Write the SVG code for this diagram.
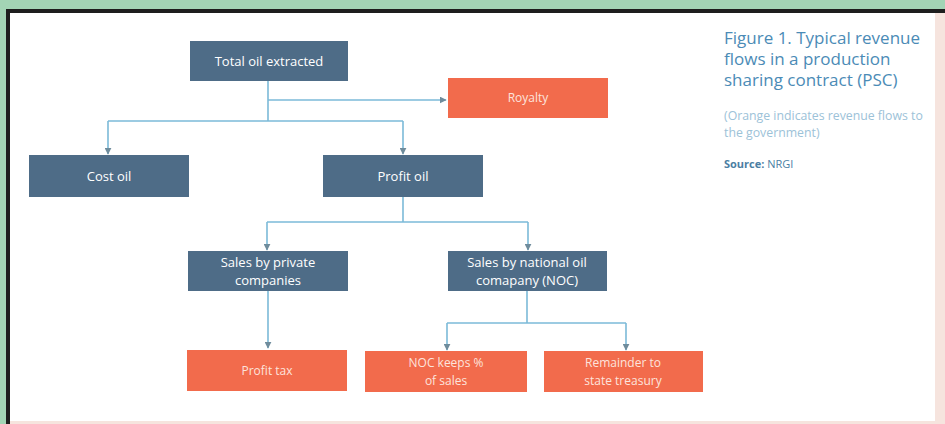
<svg xmlns="http://www.w3.org/2000/svg" width="945" height="424" viewBox="0 0 945 424">
<defs>
<style>
.dark{fill:#4e6c87}
.org{fill:#f26b4c}
.lbl{font-family:"Open Sans","Liberation Sans",sans-serif;font-size:13px;fill:#ffffff;text-anchor:middle}
.olbl{font-family:"Open Sans","Liberation Sans",sans-serif;font-size:12px;fill:#fde3dc;text-anchor:middle}
.conn{fill:none;stroke:#7bbad8;stroke-width:1.6}
.title{font-family:"Open Sans","Liberation Sans",sans-serif;font-size:17px;fill:#4b8bb6}
.sub{font-family:"Open Sans","Liberation Sans",sans-serif;font-size:12.3px;fill:#9cc2d8}
.src{font-family:"Open Sans","Liberation Sans",sans-serif;font-size:11px;fill:#4b7ea3}
</style>
<marker id="ah" viewBox="0 0 10 10" refX="9" refY="5" markerWidth="7" markerHeight="7" orient="auto" markerUnits="userSpaceOnUse">
<path d="M0,0 L10,5 L0,10 z" fill="#6f8c9c"/>
</marker>
</defs>
<rect x="0" y="0" width="945" height="424" fill="#a3d4b5"/>
<rect x="6" y="9" width="945" height="420" fill="#1e1e1e"/>
<rect x="10" y="13" width="935" height="411" fill="#f6e4de"/>
<rect x="10" y="13" width="925" height="408" fill="#ffffff"/>

<g id="connectors">
<path class="conn" d="M268,81 V121"/>
<path class="conn" d="M268,100 H446" marker-end="url(#ah)"/>
<path class="conn" d="M108,121 H403"/>
<path class="conn" d="M108,121 V154" marker-end="url(#ah)"/>
<path class="conn" d="M403,121 V154" marker-end="url(#ah)"/>
<path class="conn" d="M403,197 V222"/>
<path class="conn" d="M267,222 H528"/>
<path class="conn" d="M267,222 V250" marker-end="url(#ah)"/>
<path class="conn" d="M528,222 V250" marker-end="url(#ah)"/>
<path class="conn" d="M268,291 V348" marker-end="url(#ah)"/>
<path class="conn" d="M527,291 V323"/>
<path class="conn" d="M447,323 H626"/>
<path class="conn" d="M447,323 V350" marker-end="url(#ah)"/>
<path class="conn" d="M626,323 V350" marker-end="url(#ah)"/>
</g>

<g id="total-oil"><rect class="dark" x="190" y="41" width="158" height="40"/><text class="lbl" x="269" y="66">Total oil extracted</text></g>
<g id="royalty"><rect class="org" x="448" y="78" width="160" height="40"/><text class="olbl" x="528" y="102">Royalty</text></g>
<g id="cost-oil"><rect class="dark" x="29" y="155" width="160" height="42"/><text class="lbl" x="109" y="181">Cost oil</text></g>
<g id="profit-oil"><rect class="dark" x="323" y="155" width="160" height="42"/><text class="lbl" x="403" y="181">Profit oil</text></g>
<g id="sales-private"><rect class="dark" x="188" y="251" width="160" height="40"/><text class="lbl" x="268" y="267">Sales by private</text><text class="lbl" x="268" y="285">companies</text></g>
<g id="sales-noc"><rect class="dark" x="448" y="251" width="159" height="40"/><text class="lbl" x="527" y="267">Sales by national oil</text><text class="lbl" x="527" y="285">comapany (NOC)</text></g>
<g id="profit-tax"><rect class="org" x="187" y="350" width="160" height="41"/><text class="olbl" x="267" y="375">Profit tax</text></g>
<g id="noc-keeps"><rect class="org" x="365" y="351" width="162" height="41"/><text class="olbl" x="446" y="367">NOC keeps %</text><text class="olbl" x="446" y="385">of sales</text></g>
<g id="remainder"><rect class="org" x="544" y="351" width="159" height="41"/><text class="olbl" x="623" y="367">Remainder to</text><text class="olbl" x="623" y="385">state treasury</text></g>

<g id="caption">
<text class="title" x="724" y="44">Figure 1. Typical revenue</text>
<text class="title" x="724" y="65">flows in a production</text>
<text class="title" x="724" y="86">sharing contract (PSC)</text>
<text class="sub" x="724" y="120">(Orange indicates revenue flows to</text>
<text class="sub" x="724" y="137">the government)</text>
<text class="src" x="724" y="168"><tspan font-weight="bold">Source:</tspan> NRGI</text>
</g>
</svg>
